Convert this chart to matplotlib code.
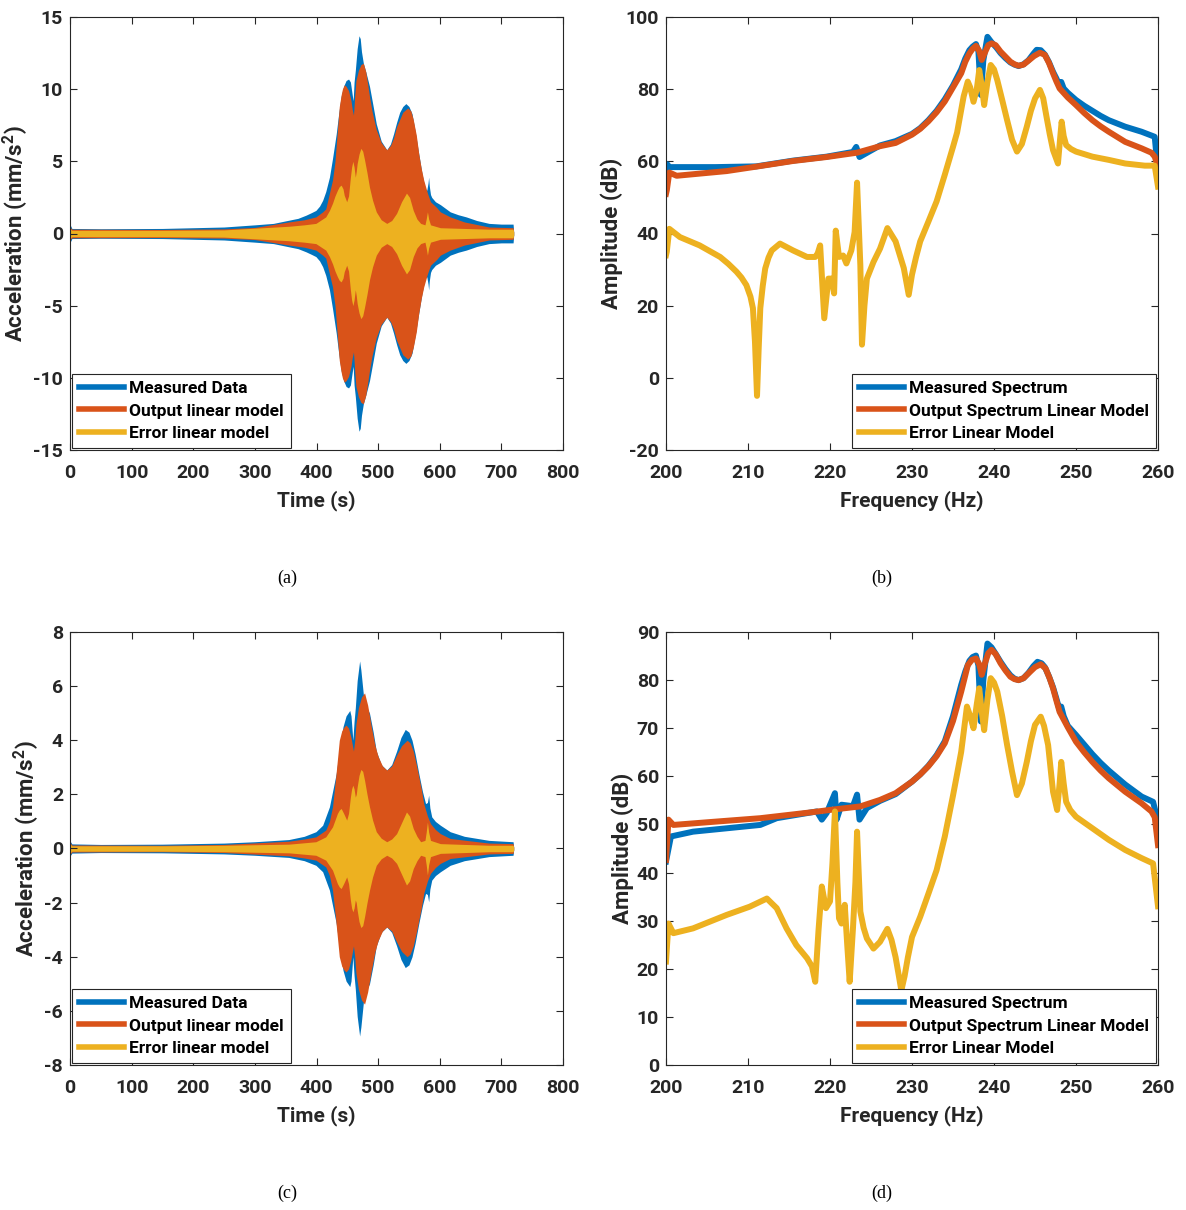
import numpy as np
import matplotlib
matplotlib.use("Agg")
import matplotlib.pyplot as plt
from matplotlib.lines import Line2D

# MATLAB default colours
C_BLUE = "#0072BD"
C_ORANGE = "#D95319"
C_YELLOW = "#EDB120"

# ---------------- (a) time response, envelope amplitudes (mm/s^2) ----------------
t_a_meas = [0, 1, 3, 50, 150, 250, 300, 330, 355, 370, 383, 392, 399, 405, 410, 415, 421,
            426, 432, 436, 440, 444, 448, 452, 455, 458, 459.5, 461, 463, 466, 469, 471,
            473, 476, 480, 486, 492, 497, 505, 514, 520, 525, 530, 535, 540, 545, 550,
            555, 560, 566, 571, 576, 579, 581, 582, 583, 585, 587, 593, 601, 609, 617,
            630, 643, 660, 680, 700, 719, 720]
a_a_meas = [0.1, 0.55, 0.35, 0.33, 0.35, 0.45, 0.6, 0.7, 0.92, 1.05, 1.27, 1.45, 1.6, 1.9,
            2.3, 2.9, 3.9, 5.2, 6.9, 8.3, 9.5, 10.2, 10.6, 10.7, 10.5, 9.6, 9.2, 10.5,
            11.3, 12.8, 13.7, 13.5, 12.6, 11.8, 11.2, 10.2, 8.8, 7.6, 6.4, 5.8, 6.2, 6.9,
            7.7, 8.4, 8.8, 9.0, 8.8, 8.3, 7.1, 5.5, 4.2, 3.1, 3.0, 3.5, 3.9, 3.3, 2.7,
            2.5, 2.2, 2.0, 1.75, 1.5, 1.3, 1.15, 0.9, 0.7, 0.65, 0.65, 0.1]

t_a_out = [0, 1, 3, 150, 250, 300, 355, 380, 399, 410, 415, 421, 426, 430, 434, 437, 440,
           442, 445, 448, 452, 456, 458, 460, 462, 464, 468, 472, 476, 480, 486, 490,
           497, 505, 514, 520, 525, 530, 540, 548, 553, 557, 562, 566, 570, 574, 580,
           585, 595, 601, 617, 640, 680, 719, 720]
a_a_out = [0.1, 0.4, 0.3, 0.28, 0.32, 0.42, 0.8, 0.95, 1.15, 1.5, 1.7, 2.8, 3.7, 5.0, 7.2,
           8.8, 9.6, 10.0, 10.3, 10.2, 9.9, 9.2, 8.6, 8.2, 9.5, 10.6, 11.3, 11.7, 11.8,
           11.2, 9.5, 8.5, 7.2, 6.3, 5.8, 6.1, 6.6, 7.4, 8.4, 8.7, 8.5, 7.9, 6.8, 5.5,
           4.5, 3.7, 2.8, 2.2, 1.8, 1.5, 1.15, 0.8, 0.45, 0.4, 0.1]

t_a_err = [0, 1, 3, 150, 250, 355, 380, 399, 415, 421, 426, 430, 434, 437, 440, 443, 445,
           449, 452, 455, 457, 459, 461, 463, 464.5, 466, 469, 472, 475, 478, 482, 486,
           491, 497, 505, 514, 522, 530, 538, 546, 551, 557, 563, 569, 576, 578, 580,
           582, 585, 601, 680, 719, 720]
a_a_err = [0.1, 0.3, 0.22, 0.22, 0.25, 0.5, 0.6, 0.7, 1.15, 1.6, 2.1, 2.6, 3.0, 3.25, 3.35,
           3.1, 2.65, 2.2, 2.6, 3.9, 4.6, 5.0, 4.6, 3.9, 4.3, 4.85, 5.5, 5.9, 5.7, 5.1,
           4.2, 3.2, 2.3, 1.5, 0.95, 0.7, 0.9, 1.4, 2.2, 2.8, 2.5, 1.6, 1.0, 0.7, 0.6,
           1.0, 1.5, 1.0, 0.6, 0.4, 0.3, 0.3, 0.1]

# ---------------- (c) time response ----------------
t_c_meas = [0, 1, 3, 50, 150, 250, 300, 355, 380, 399, 410, 421, 426, 432, 437, 443, 448,
            454, 456, 459, 461, 463, 466, 470, 472, 476, 480, 486, 492, 497, 505, 514,
            522, 530, 537, 544, 550, 555, 560, 566, 572, 577, 580, 582, 584, 587, 593,
            601, 617, 640, 680, 719, 720]
a_c_meas = [0.05, 0.25, 0.17, 0.15, 0.16, 0.2, 0.25, 0.33, 0.45, 0.62, 0.86, 1.54, 2.1,
            2.77, 3.6, 4.5, 4.9, 5.1, 4.9, 4.0, 4.7, 5.2, 6.2, 6.93, 6.6, 5.7, 5.3, 5.0,
            4.3, 3.6, 3.1, 2.9, 3.1, 3.6, 4.1, 4.4, 4.3, 4.0, 3.5, 2.77, 2.1, 1.66, 1.7,
            1.97, 1.5, 1.17, 1.0, 0.86, 0.62, 0.45, 0.3, 0.25, 0.05]

t_c_out = [0, 1, 3, 150, 250, 355, 380, 399, 415, 421, 426, 431, 437, 441, 445, 448, 452,
           456, 460, 462, 464, 468, 473, 478, 483, 489, 495, 500, 507, 514, 522, 530,
           538, 547, 552, 557, 562, 566, 570, 574, 580, 585, 593, 601, 617, 680, 719, 720]
a_c_out = [0.05, 0.2, 0.13, 0.12, 0.15, 0.27, 0.35, 0.43, 0.68, 1.0, 1.54, 2.6, 4.0, 4.35,
           4.5, 4.56, 4.45, 4.1, 3.6, 4.0, 4.6, 5.2, 5.6, 5.75, 5.3, 4.5, 3.8, 3.4, 3.05,
           2.9, 3.05, 3.45, 3.8, 4.0, 3.9, 3.6, 3.1, 2.65, 2.2, 1.66, 1.2, 0.92, 0.7,
           0.55, 0.37, 0.2, 0.18, 0.05]

t_c_err = [0, 1, 3, 150, 250, 355, 399, 415, 426, 430, 434, 437, 440, 444, 449, 452, 455,
           457, 459, 461, 463, 464.5, 466, 469, 472, 475, 478, 482, 486, 491, 497, 505,
           514, 522, 530, 538, 546, 551, 557, 563, 569, 576, 578, 580, 582, 585, 601,
           680, 719, 720]
a_c_err = [0.05, 0.15, 0.1, 0.1, 0.12, 0.16, 0.25, 0.43, 0.8, 1.05, 1.3, 1.42, 1.48,
           1.3, 1.05, 1.3, 1.9, 2.2, 2.34, 2.2, 1.9, 2.0, 2.28, 2.7, 2.92, 2.85, 2.52,
           2.0, 1.54, 1.05, 0.62, 0.38, 0.25, 0.35, 0.55, 0.95, 1.35, 1.2, 0.74, 0.45,
           0.25, 0.3, 0.6, 0.98, 0.6, 0.3, 0.18, 0.12, 0.12, 0.05]

# ---------------- (b) spectra (dB) ----------------
f_b_meas = [200, 200.15, 200.4, 201.5, 206, 211, 215.5, 219.6, 222.8, 223.2, 223.6, 226.1,
            228, 230, 231, 232, 233, 234, 235, 236, 236.5, 237, 237.4, 237.8, 238.1,
            238.4, 238.7, 239.2, 239.7, 240.3, 240.8, 241.4, 242, 242.5, 243, 243.6,
            244.2, 244.8, 245.2, 245.7, 246.2, 246.7, 247.2, 247.6, 248, 248.2, 248.5,
            249, 250, 251, 252, 253, 254, 256, 258, 259.6, 260]
a_b_meas = [53, 59.2, 58.4, 58.4, 58.4, 58.6, 60.2, 61.3, 62.6, 64.0, 61.2, 64.4, 65.6,
            67.6, 69.2, 71.4, 74.0, 77.2, 81.0, 85.5, 88.5, 90.8, 91.8, 92.5, 90.5, 78.4,
            88.0, 94.5, 93.0, 91.5, 90.0, 88.6, 87.4, 86.8, 86.4, 86.9, 88.0, 89.8, 90.9,
            90.8, 89.6, 87.5, 84.8, 83.0, 81.0, 82.0, 80.2, 79.0, 77.0, 75.4, 74.0, 72.6,
            71.4, 69.6, 68.2, 66.8, 57]

f_b_out = [200, 200.1, 200.4, 201.3, 207.4, 211.5, 215.5, 219.6, 223.3, 226.1, 228, 230,
           231, 232, 233, 234, 235, 236, 236.5, 237, 237.4, 237.8, 238.2, 238.5, 238.9,
           239.3, 239.7, 240.2, 240.8, 241.4, 242, 242.5, 243, 243.6, 244.2, 244.9,
           245.6, 246.2, 246.7, 247.2, 247.6, 248, 249, 250, 251, 252, 253, 254, 256,
           258, 259.2, 259.6, 260]
a_b_out = [51.0, 52, 56.9, 56.0, 57.3, 58.7, 60.1, 61.2, 62.4, 64.2, 65.1, 67.4, 69.0,
           71.1, 73.6, 76.6, 80.5, 84.4, 87.6, 89.9, 91.2, 92.0, 90.6, 88.1, 90.2, 92.2,
           92.7, 92.2, 90.4, 89.0, 87.6, 86.9, 86.5, 86.8, 87.9, 89.2, 90.1, 89.5, 87.3,
           84.4, 82.2, 80.2, 77.7, 75.6, 73.4, 71.4, 69.7, 68.2, 65.4, 63.6, 62.4, 61.3,
           58.5]

f_b_err = [200, 200.1, 200.4, 201.7, 204.1, 206.6, 207.6, 208.6, 209.2, 209.8, 210.3,
           210.6, 210.85, 211.1, 211.3, 211.5, 211.8, 212.1, 212.5, 212.9, 213.9, 215.5,
           217.2, 218.2, 218.5, 218.8, 219.3, 219.8, 220.2, 220.5, 220.7, 221.1, 221.6,
           222, 222.6, 223, 223.3, 223.7, 223.9, 224.2, 224.5, 225.3, 226.1, 227, 228,
           229, 229.6, 230, 230.5, 231, 232, 233, 234, 235, 235.5, 236.3, 236.8, 237.1,
           237.5, 237.9, 238.2, 238.5, 238.8, 239.2, 239.6, 240.0, 240.4, 241, 241.6,
           242.2, 242.8, 243.4, 244, 244.5, 245, 245.6, 246, 246.4, 246.8, 247.2, 247.8,
           248.05, 248.25, 248.5, 248.8, 249.4, 250, 252, 254, 256, 258.4, 259.6, 260]
a_b_err = [34.0, 35, 41.3, 39.0, 36.7, 33.5, 31.6, 29.4, 27.8, 25.7, 22.5, 19.3, 10,
           -5.0, 8, 19.3, 25.5, 30.3, 33.3, 35.3, 37.2, 35.3, 33.5, 33.5, 34.5, 36.7,
           16.5, 27.5, 27.5, 23.4, 40.8, 33.5, 33.9, 31.7, 35.3, 40.4, 54.1, 31.2, 9.2,
           20, 27.5, 32.1, 35.8, 41.5, 37.8, 30.4, 23.0, 28.6, 33.5, 37.8, 43.3, 48.9,
           56.3, 64.0, 68, 78, 82.1, 80.5, 76.5, 80, 85.3, 81, 75.6, 82, 86.7, 85.5, 82.5,
           77, 71.4, 66, 62.7, 64.8, 69.6, 74, 77.4, 79.8, 77.5, 72.4, 67.5, 63.1, 59.4,
           66, 71.0, 67, 64.5, 63.4, 62.7, 61.3, 60.4, 59.4, 58.8, 58.8, 53.0]

# ---------------- (d) spectra (dB) ----------------
f_d_meas = [200, 200.6, 203.3, 211.5, 213.5, 218.4, 219.0, 219.6, 220.6, 220.8, 221.4,
            222.8, 223.3, 223.6, 224.5, 226.1, 228, 230, 231, 232, 233, 234, 235, 236,
            236.5, 237, 237.4, 237.8, 238.1, 238.4, 238.7, 239.2, 239.7, 240.3, 240.8,
            241.4, 242, 242.5, 243, 243.6, 244.2, 244.8, 245.3, 245.8, 246.2, 246.7,
            247.2, 247.6, 248, 248.2, 248.5, 249, 250, 251, 252, 253, 254, 256, 258,
            259.4, 260]
a_d_meas = [42.3, 47.5, 48.5, 49.9, 51.3, 52.7, 51.0, 52.4, 56.5, 51.0, 54.1, 53.8, 56.2,
            51.0, 53.4, 54.9, 56.3, 58.9, 60.4, 62.2, 64.4, 67.3, 72.5, 79.0, 81.8, 84.0,
            84.8, 85.1, 83.0, 71.4, 80.0, 87.6, 86.8, 85.2, 83.8, 82.3, 81.0, 80.3, 80.0,
            80.4, 81.5, 82.9, 83.8, 83.5, 82.7, 80.8, 78.5, 76.2, 73.8, 74.5, 72.5, 70.5,
            68.6, 66.6, 64.6, 62.8, 61.2, 58.3, 55.8, 54.7, 50.6]

f_d_out = [200, 200.3, 200.9, 205.4, 211.5, 217.6, 220.4, 223.7, 226.1, 228, 230, 231,
           232, 233, 234, 235, 236, 236.5, 236.8, 237.3, 237.8, 238.2, 238.5, 238.9,
           239.3, 239.7, 240.2, 240.8, 241.4, 242, 242.5, 243, 243.6, 244.2, 245, 245.7,
           246.3, 246.8, 247.2, 247.6, 248, 249, 250, 251, 252, 253, 254, 256, 258, 259.2,
           259.6, 260]
a_d_out = [42.6, 51.0, 49.9, 50.5, 51.3, 52.5, 53.1, 53.75, 55.1, 56.5, 58.9, 60.4, 62.1,
           64.2, 66.9, 71.5, 77.6, 81.0, 83.1, 84.2, 84.5, 83.3, 81.1, 83.5, 85.6, 86.3,
           85.4, 83.5, 82.0, 80.7, 80.2, 80.0, 80.4, 81.4, 82.7, 83.3, 82.4, 80.3, 78.3,
           75.8, 73.4, 70.2, 67.2, 65.0, 63.0, 61.2, 59.6, 56.8, 54.4, 52.7, 51.5, 45.7]

f_d_err = [200, 200.3, 200.9, 203.3, 207.4, 210.2, 212.3, 213.5, 214.7, 215.9, 217.2,
           217.8, 218.2, 218.6, 219.0, 219.5, 220.0, 220.3, 220.6, 220.9, 221.1, 221.4,
           221.8, 222.1, 222.4, 222.8, 223.1, 223.3, 223.5, 223.7, 224.1, 224.5, 225.3,
           226.1, 227, 227.5, 228, 228.4, 228.7, 229.1, 229.5, 230, 231, 232, 233, 234,
           235, 235.5, 236, 236.7, 237.1, 237.5, 237.9, 238.2, 238.5, 238.8, 239.2,
           239.6, 240.0, 240.4, 241, 241.6, 242.2, 242.8, 243.4, 244, 244.5, 245, 245.7,
           246.1, 246.6, 247.2, 247.7, 248.0, 248.2, 248.5, 248.8, 249.3, 250, 252, 254,
           256, 258, 259.4, 260]
a_d_err = [21.5, 29.4, 27.4, 28.4, 31.2, 32.9, 34.6, 32.6, 28.4, 24.9, 22.2, 20.5, 17.3,
           28, 37.1, 32.6, 34.0, 42, 52.7, 38, 30.5, 29.4, 33.3, 25, 17.3, 28.4, 38,
           48.5, 40, 31.9, 28.5, 26.3, 24.2, 25.6, 28.3, 26, 22.4, 18.5, 15.5, 18.5, 22.4,
           26.6, 30.8, 35.6, 40.5, 47.5, 56.0, 60.5, 65.1, 74.5, 72.5, 70.0, 75, 78.3,
           73.5, 69.6, 76, 80.4, 79.5, 77.6, 72.5, 66.5, 61, 56.1, 58.5, 63.0, 67.3,
           70.7, 72.4, 70.5, 66.5, 56.8, 53.0, 58.5, 63.0, 58.5, 54.7, 53.0, 51.6, 49.2,
           46.8, 44.7, 43.0, 41.9, 33.0]

FONT = ['Roboto', 'DejaVu Sans']
plt.rcParams['font.family'] = FONT
plt.rcParams['font.weight'] = 'bold'
plt.rcParams['axes.labelweight'] = 'bold'
plt.rcParams['axes.unicode_minus'] = False
plt.rcParams['mathtext.fontset'] = 'custom'
plt.rcParams['mathtext.bf'] = 'Roboto:bold'
plt.rcParams['mathtext.rm'] = 'Roboto:bold'

AX_COL = "#262626"

fig = plt.figure(figsize=(11.86, 12.10), dpi=100)

W, H = 1186, 1210


def make_axes(x0, x1, y0, y1):
    return fig.add_axes([x0 / W, 1 - y1 / H, (x1 - x0) / W, (y1 - y0) / H])


def style(ax):
    ax.tick_params(direction='in', top=True, right=True, length=5, width=0.8,
                   labelsize=14, colors=AX_COL)
    ax.tick_params(axis='x', pad=10)
    ax.tick_params(axis='y', pad=5)
    for sp in ax.spines.values():
        sp.set_color(AX_COL)
        sp.set_linewidth(0.8)


def legend(ax, labels, loc):
    handles = [Line2D([], [], color=c, lw=4) for c in (C_BLUE, C_ORANGE, C_YELLOW)]
    leg = ax.legend(handles, labels, loc=loc, fontsize=12.5, handlelength=2.6,
                    handletextpad=0.3, borderaxespad=0.12, fancybox=False,
                    framealpha=1, edgecolor=AX_COL, labelspacing=0.42,
                    borderpad=0.4)
    leg.get_frame().set_linewidth(0.8)
    for txt in leg.get_texts():
        txt.set_color('black')


def time_panel(ax, series, ylim, yticks):
    for t, a, c in series:
        t = np.asarray(t)
        a = np.asarray(a)
        ax.fill_between(t, -a, a, color=c, lw=0)
    ax.set_xlim(0, 800)
    ax.set_ylim(*ylim)
    ax.set_xticks(range(0, 801, 100))
    ax.set_yticks(yticks)
    ax.set_xlabel('Time (s)', fontsize=15, color=AX_COL, labelpad=6)
    ax.set_ylabel('Acceleration (mm/s$^\\mathbf{2}$)', fontsize=16, color=AX_COL,
                  labelpad=2)
    style(ax)
    legend(ax, ['Measured Data', 'Output linear model', 'Error linear model'], 'lower left')


def spec_panel(ax, series, ylim, yticks):
    for f, a, c in series:
        ax.plot(f, a, color=c, lw=4.3, solid_joinstyle='round')
    ax.set_xlim(200, 260)
    ax.set_ylim(*ylim)
    ax.set_xticks(range(200, 261, 10))
    ax.set_yticks(yticks)
    ax.set_xlabel('Frequency (Hz)', fontsize=15, color=AX_COL, labelpad=6)
    ax.set_ylabel('Amplitude (dB)', fontsize=16, color=AX_COL, labelpad=2)
    style(ax)
    legend(ax, ['Measured Spectrum', 'Output Spectrum Linear Model', 'Error Linear Model'],
           'lower right')


ax_a = make_axes(70, 563, 17, 450)
time_panel(ax_a, [(t_a_meas, a_a_meas, C_BLUE), (t_a_out, a_a_out, C_ORANGE),
                  (t_a_err, a_a_err, C_YELLOW)], (-15, 15), range(-15, 16, 5))

ax_b = make_axes(666, 1158, 17, 450)
spec_panel(ax_b, [(f_b_meas, a_b_meas, C_BLUE), (f_b_out, a_b_out, C_ORANGE),
                  (f_b_err, a_b_err, C_YELLOW)], (-20, 100), range(-20, 101, 20))

ax_c = make_axes(70, 563, 632, 1065)
time_panel(ax_c, [(t_c_meas, a_c_meas, C_BLUE), (t_c_out, a_c_out, C_ORANGE),
                  (t_c_err, a_c_err, C_YELLOW)], (-8, 8), range(-8, 9, 2))

ax_d = make_axes(666, 1158, 632, 1065)
spec_panel(ax_d, [(f_d_meas, a_d_meas, C_BLUE), (f_d_out, a_d_out, C_ORANGE),
                  (f_d_err, a_d_err, C_YELLOW)], (0, 90), range(0, 91, 10))

caps = [('(a)', 287, 578), ('(b)', 882, 578), ('(c)', 287, 1193), ('(d)', 882, 1193)]
for s, x, y in caps:
    fig.text(x / W, 1 - y / H, s, ha='center', va='center', fontsize=13,
             family='Liberation Serif', weight='normal')

fig.savefig('out.png', dpi=100)
